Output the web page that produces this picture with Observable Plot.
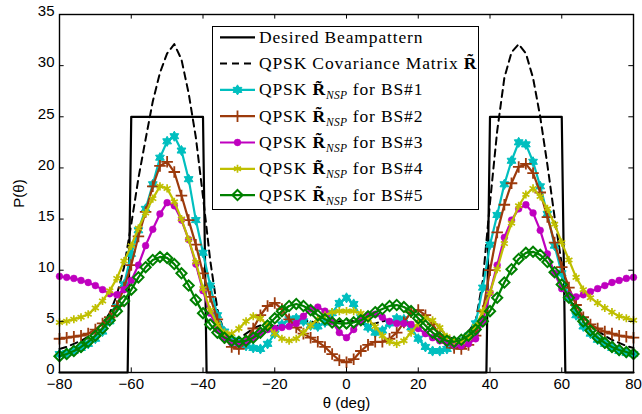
<!DOCTYPE html>
<html><head><meta charset="utf-8">
<script src="https://cdn.jsdelivr.net/npm/d3@7"></script>
<script src="https://cdn.jsdelivr.net/npm/@observablehq/plot@0.6"></script>
<style>
body{margin:0;background:#fff;}
#chart{position:relative;width:642px;height:414px;}
</style>
</head><body><div id="chart"></div>
<script>
// ---------------- data ----------------
const theta = [-80,-78,-76,-74,-72,-70,-68,-66,-64,-62,-60,-58,-56,-54,-52,-50,-48,-46,-44,-42,-40,-38,-36,-34,-32,-30,-28,-26,-24,-22,-20,-18,-16,-14,-12,-10,-8,-6,-4,-2,0,2,4,6,8,10,12,14,16,18,20,22,24,26,28,30,32,34,36,38,40,42,44,46,48,50,52,54,56,58,60,62,64,66,68,70,72,74,76,78,80];

const desiredTheta = [-80,-61,-60,-40,-39,39,40,60,61,80];
const desiredP     = [0,0,25,25,0,0,25,25,0,0];

const covP = [2.3,2.5,2.8,3.1,3.5,4.0,4.8,5.8,7.6,10.3,
  14.5,19.0,22.8,26.5,29.3,31.2,32.1,30.6,27.3,23.0,
  17.2,11.0,6.2,3.8,3.2,3.3,3.8,4.3,4.6,4.7,
  4.6,4.5,4.6,4.9,5.1,5.0,4.8,4.7,4.8,5.0,
  5.1,5.0,4.8,4.7,4.8,5.0,5.1,4.9,4.7,4.8,
  5.1,5.2,5.0,4.3,3.6,3.2,3.3,4.0,5.0,9.0,
  16.6,23.6,28.8,31.3,32.1,31.2,28.8,25.0,20.3,15.2,
  10.6,8.0,6.1,5.2,4.6,4.1,3.6,3.2,2.9,2.6,
  2.4];

const bs1P = [1.8,1.9,2.1,2.4,2.8,3.3,4.0,5.0,6.4,8.6,
  11.6,13.9,16.0,18.4,21.0,22.6,23.1,21.7,18.9,14.9,
  11.7,8.5,5.6,4.0,3.2,2.8,2.6,2.4,2.3,2.8,
  3.8,4.7,5.2,5.3,5.0,4.6,4.5,4.9,5.8,6.8,
  7.3,6.7,5.4,4.4,3.9,4.1,4.8,5.3,5.2,4.4,
  3.3,2.5,2.1,2.1,2.3,2.6,3.0,3.6,4.8,8.3,
  12.5,15.4,18.4,20.7,22.5,22.3,20.6,18.2,15.5,12.4,
  9.7,7.3,5.6,4.5,3.8,3.2,2.8,2.4,2.1,1.9,
  1.8];

const bs2P = [3.3,3.4,3.5,3.6,3.8,4.2,4.8,5.4,6.5,8.3,
  10.5,13.3,15.7,18.2,20.2,20.6,19.6,17.3,14.9,12.5,
  9.7,7.4,5.2,3.4,2.5,2.3,3.0,4.3,5.6,6.5,
  6.8,6.2,5.2,4.4,3.8,3.4,3.0,2.5,1.8,1.2,
  1.0,1.3,2.1,2.7,3.0,3.0,3.3,3.9,4.9,5.9,
  6.1,5.6,4.7,3.7,2.9,2.4,2.3,2.7,3.6,6.0,
  10.0,13.7,16.4,18.5,20.1,20.4,19.5,17.6,15.2,12.7,
  10.3,8.3,6.6,5.4,4.7,4.3,4.0,3.8,3.6,3.5,
  3.4];

const bs3P = [9.4,9.3,9.2,9.0,8.8,8.5,8.1,7.7,7.6,8.1,
  9.0,10.5,12.4,14.0,15.5,16.6,16.3,14.9,13.0,10.6,
  8.0,5.8,4.2,3.3,2.9,2.8,3.0,3.4,3.9,4.2,
  4.3,4.4,4.5,4.8,5.5,6.2,6.4,6.0,5.0,3.9,
  3.4,4.2,5.1,5.6,5.7,5.4,5.0,4.8,4.8,4.7,
  4.3,3.8,3.4,3.1,2.9,2.7,2.6,2.8,3.3,5.0,
  7.8,10.5,13.2,14.9,16.0,16.4,15.6,13.9,11.6,9.7,
  8.2,7.6,7.4,7.6,7.9,8.2,8.5,8.8,9.0,9.2,
  9.3];

const bs4P = [4.9,5.0,5.2,5.4,5.7,6.3,7.0,8.0,9.2,10.9,
  12.4,14.1,15.6,17.0,18.2,18.0,16.7,15.0,13.0,10.8,
  8.2,6.1,4.7,3.9,3.8,4.3,5.0,5.5,5.3,4.6,
  3.8,3.3,3.1,3.3,3.9,4.6,5.2,5.6,5.9,6.0,
  6.0,6.0,5.8,5.2,4.5,3.6,3.0,2.8,3.1,3.9,
  4.8,5.3,5.1,4.4,3.5,3.1,3.0,3.5,4.5,6.0,
  7.8,10.1,12.6,14.6,16.3,17.4,18.0,17.2,16.0,14.5,
  12.7,11.0,9.3,8.1,7.3,6.8,6.3,5.9,5.5,5.3,
  5.1];

const bs5P = [1.6,1.8,2.1,2.5,3.0,3.6,4.3,5.1,6.0,7.0,
  8.1,9.3,10.3,11.0,11.3,11.2,10.6,9.7,8.5,7.1,
  5.8,4.7,3.9,3.4,3.1,3.0,3.1,3.4,3.9,4.6,
  5.3,6.0,6.5,6.7,6.5,6.1,5.6,5.2,4.9,4.8,
  4.8,4.9,5.1,5.5,5.9,6.2,6.5,6.6,6.4,6.0,
  5.3,4.6,3.9,3.4,3.1,3.0,3.2,3.6,4.2,5.0,
  6.0,7.3,8.8,10.1,11.1,11.7,11.8,11.5,10.8,9.8,
  8.6,7.3,6.1,5.0,4.1,3.4,2.9,2.5,2.2,2.0,
  1.8];

const xTicks = [-80,-60,-40,-20,0,20,40,60,80];
const yTicks = [0,5,10,15,20,25,30,35];

const seriesNames = ["Desired Beampattern","QPSK Covariance Matrix","BS#1","BS#2","BS#3","BS#4","BS#5"];
const colors = ["#000000","#000000","#00bfbf","#9c3a0c","#bf00bf","#bfbf00","#008000"];

// ---------------- symbols ----------------
const hexagram = {
  draw(context, size) {
    const R = Math.sqrt(size / Math.PI) * 1.15;
    const r = R / Math.sqrt(3);
    for (let i = 0; i < 12; i++) {
      const a = (i * Math.PI) / 6 - Math.PI / 2;
      const rr = i % 2 === 0 ? R : r;
      const px = rr * Math.cos(a), py = rr * Math.sin(a);
      if (i === 0) context.moveTo(px, py); else context.lineTo(px, py);
    }
    context.closePath();
  }
};

const markerSpec = [
  {vals: bs1P, color: colors[2], symbol: hexagram, r: 4.4, fill: colors[2], stroke: colors[2], sw: 1},
  {vals: bs2P, color: colors[3], symbol: "plus", r: 3.8, fill: "none", stroke: colors[3], sw: 1.8},
  {vals: bs3P, color: colors[4], symbol: "circle", r: 3.4, fill: colors[4], stroke: colors[4], sw: 0.5},
  {vals: bs4P, color: colors[5], symbol: "asterisk", r: 3.8, fill: "none", stroke: colors[5], sw: 1.7},
  {vals: bs5P, color: colors[6], symbol: "diamond2", r: 4.6, fill: "none", stroke: colors[6], sw: 2}
];

const seriesMarks = markerSpec.flatMap(s => [
  Plot.line(theta, {x: theta, y: s.vals, stroke: s.color, strokeWidth: 2.2}),
  Plot.dot(theta, {x: theta, y: s.vals, symbol: s.symbol, r: s.r, fill: s.fill, stroke: s.stroke, strokeWidth: s.sw})
]);

const chart = Plot.plot({
  width: 642, height: 414,
  marginLeft: 59, marginRight: 9, marginTop: 14, marginBottom: 42,
  x: {domain: [-80, 80]},
  y: {domain: [0, 35]},
  style: {fontFamily: "'Liberation Sans', Arial, sans-serif", fontSize: "15px", background: "white", color: "black"},
  marks: [
    Plot.line(desiredTheta, {x: desiredTheta, y: desiredP, stroke: "black", strokeWidth: 2.2}),
    Plot.line(theta, {x: theta, y: covP, stroke: "black", strokeWidth: 2, strokeDasharray: "7,5"}),
    ...seriesMarks,
    Plot.ruleX(xTicks.slice(1, -1), {x: d => d, y1: 0, y2: 0.45, stroke: "black", strokeWidth: 1}),
    Plot.ruleX(xTicks.slice(1, -1), {x: d => d, y1: 34.55, y2: 35, stroke: "black", strokeWidth: 1}),
    Plot.ruleY(yTicks.slice(1, -1), {y: d => d, x1: -80, x2: -78.7, stroke: "black", strokeWidth: 1}),
    Plot.ruleY(yTicks.slice(1, -1), {y: d => d, x1: 78.7, x2: 80, stroke: "black", strokeWidth: 1}),
    Plot.frame({stroke: "black", strokeWidth: 1.4}),
    Plot.axisX({ticks: xTicks, tickSize: 0, tickPadding: 6, label: null, fontSize: 15}),
    Plot.axisY({ticks: yTicks, tickSize: 0, tickPadding: 5, label: null, fontSize: 15, dy: -3}),
    Plot.text(["θ (deg)"], {frameAnchor: "bottom", dy: 35, fontSize: 15}),
    Plot.text(["P(θ)"], {frameAnchor: "left", dx: -40, rotate: -90, textAnchor: "middle", fontSize: 15})
  ]
});

document.getElementById("chart").appendChild(chart);

// ---------------- legend ----------------
const svg = d3.select(chart);
const lg = svg.append("g")
  .attr("font-family", "'Liberation Serif', 'Times New Roman', serif")
  .attr("font-size", 17.5)
  .attr("text-anchor", "start")
  .attr("letter-spacing", "0.85px");
lg.append("rect").attr("x", 212.5).attr("y", 26.5).attr("width", 266).attr("height", 183)
  .attr("fill", "white").attr("stroke", "black").attr("stroke-width", 1);

const rowY = [37.3, 63.6, 89.9, 116.2, 142.5, 168.8, 195.1];
const x0 = 220, x1 = 255, tx = 259;

function addText(y, parts) {
  const t = lg.append("text").attr("x", tx).attr("y", y + 5.5).attr("fill", "black").attr("text-anchor", "start");
  parts.forEach(p => {
    const s = t.append("tspan").text(p.t);
    if (p.bold) s.attr("font-weight", "bold");
    if (p.sub) s.attr("font-size", 11.5).attr("font-style", "italic").attr("dy", 4).attr("letter-spacing", "0.4px");
    if (p.after) s.attr("dy", -4);
  });
}

// row 0: desired
lg.append("line").attr("x1", x0).attr("x2", x1).attr("y1", rowY[0]).attr("y2", rowY[0]).attr("stroke", "black").attr("stroke-width", 2.2);
addText(rowY[0], [{t: seriesNames[0]}]);
// row 1: covariance
lg.append("line").attr("x1", x0).attr("x2", x1).attr("y1", rowY[1]).attr("y2", rowY[1]).attr("stroke", "black").attr("stroke-width", 2).attr("stroke-dasharray", "7,5");
addText(rowY[1], [{t: seriesNames[1] + " "}, {t: "R\u0303", bold: true}]);

markerSpec.forEach((s, i) => {
  const y = rowY[i + 2];
  lg.append("line").attr("x1", x0).attr("x2", x1).attr("y1", y).attr("y2", y).attr("stroke", s.color).attr("stroke-width", 2.2);
  const typeMap = {plus: d3.symbolPlus, circle: d3.symbolCircle, asterisk: d3.symbolAsterisk, diamond2: d3.symbolDiamond2};
  const type = typeof s.symbol === "string" ? typeMap[s.symbol] : s.symbol;
  lg.append("path").attr("d", d3.symbol(type, Math.PI * s.r * s.r)())
    .attr("transform", `translate(${(x0 + x1) / 2},${y})`)
    .attr("fill", s.fill).attr("stroke", s.stroke).attr("stroke-width", s.sw);
  addText(y, [{t: "QPSK "}, {t: "R\u0303", bold: true}, {t: "NSP", sub: true}, {t: " for " + seriesNames[i + 2], after: true}]);
});
</script>
</body></html>
